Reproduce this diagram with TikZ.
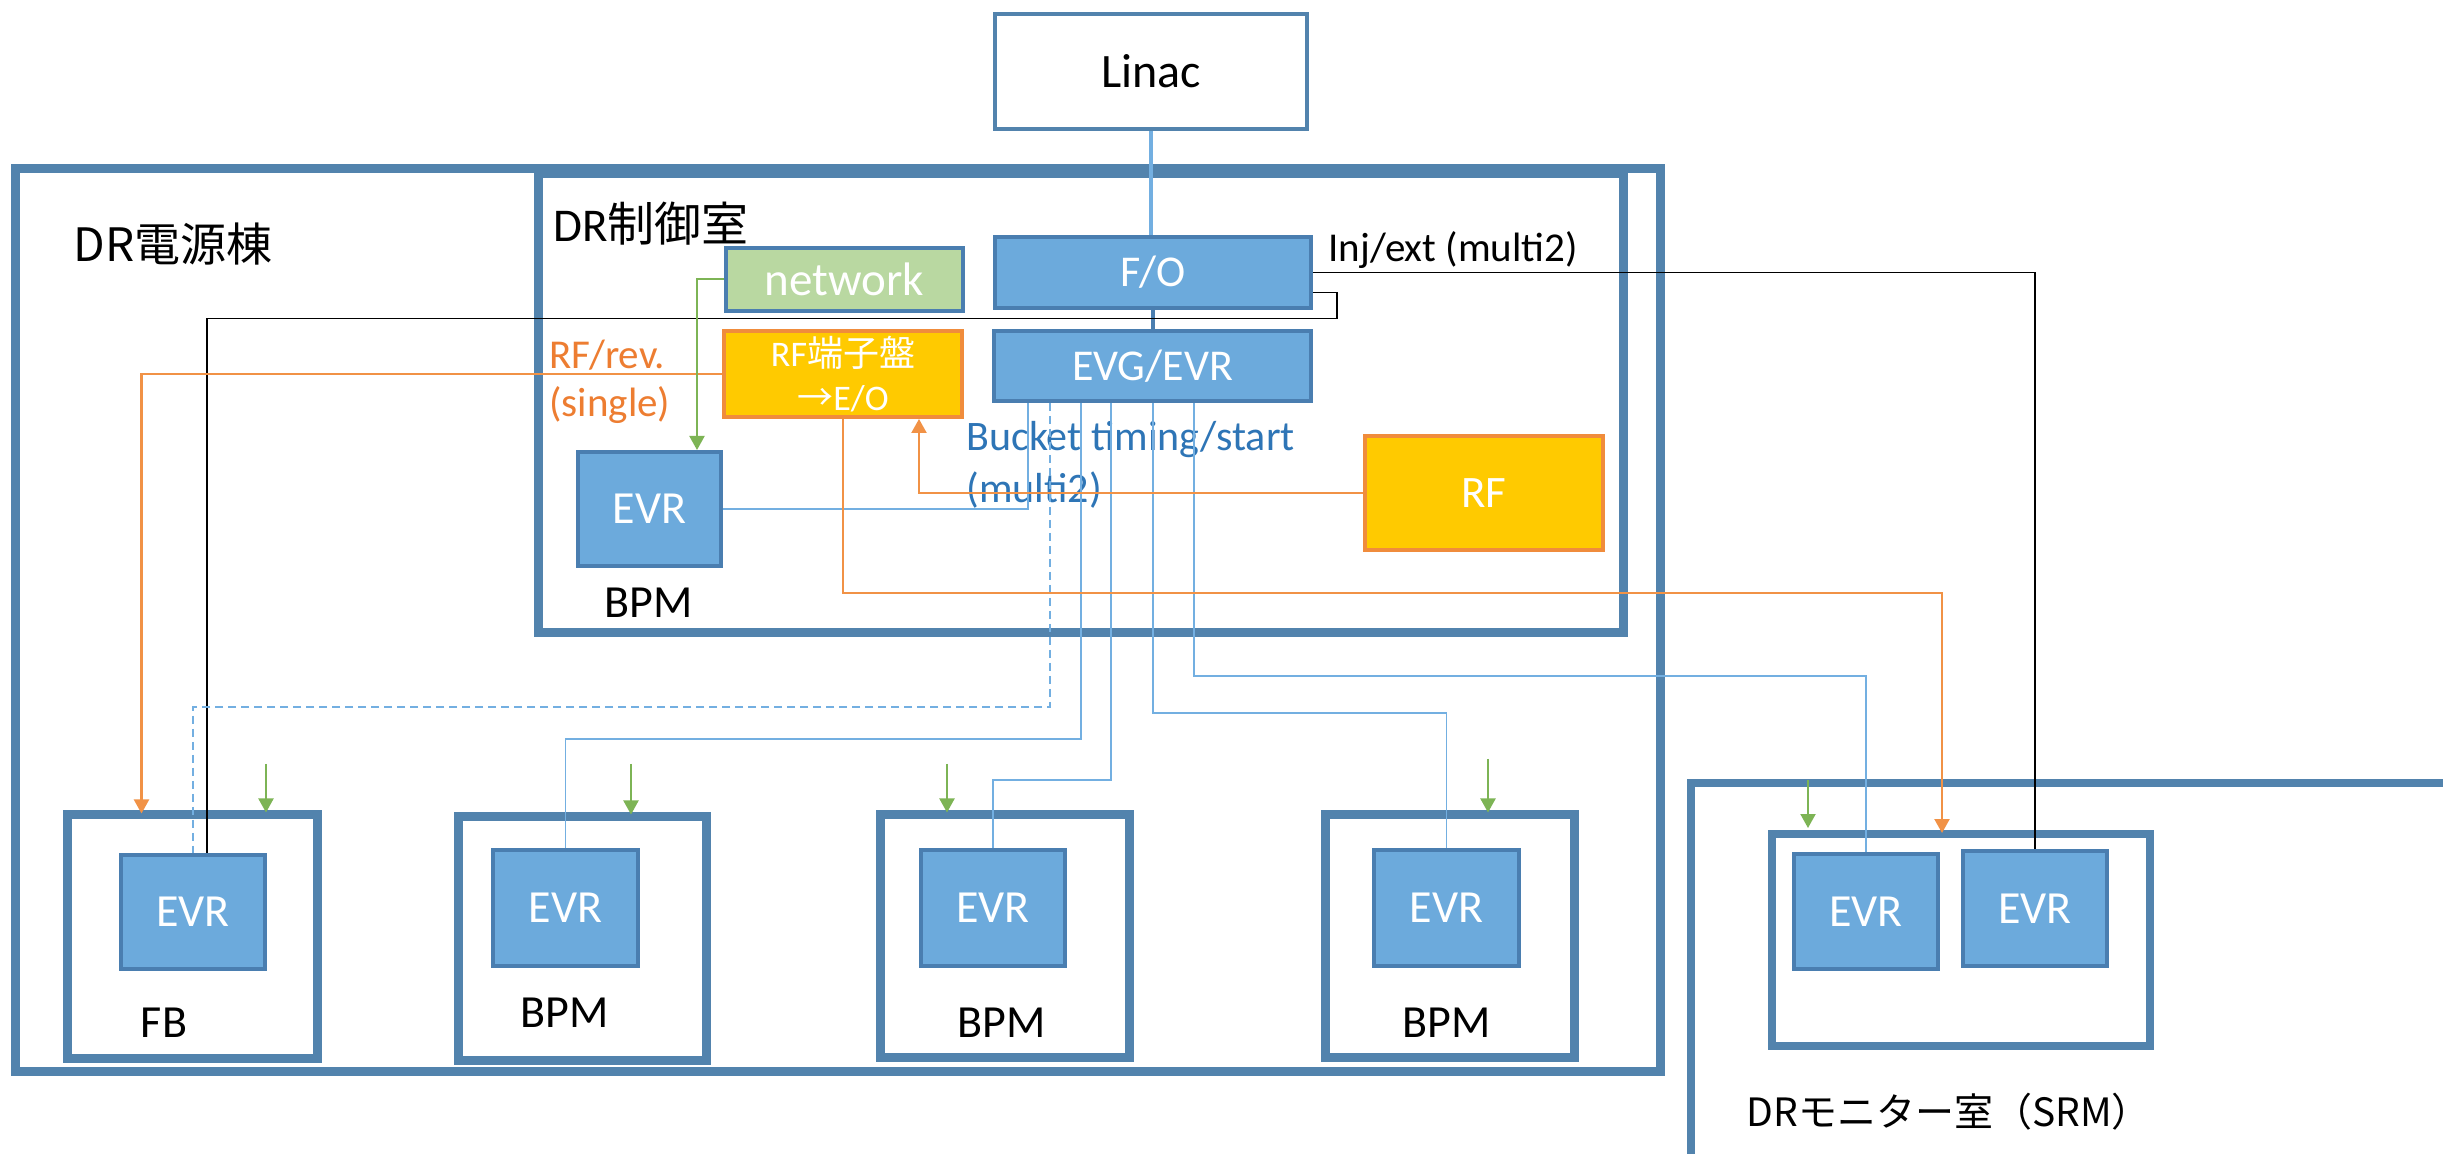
\documentclass[tikz,border=0pt]{standalone}
\usepackage{fontspec}
\setmainfont{Carlito}
\newfontfamily\cjk{Noto Sans CJK JP}
\usetikzlibrary{arrows.meta,calc}
\definecolor{roomblue}{RGB}{82,131,173}
\definecolor{evrfill}{RGB}{108,170,220}
\definecolor{evrborder}{RGB}{74,126,176}
\definecolor{netgreen}{RGB}{185,216,161}
\definecolor{gold}{RGB}{255,202,0}
\definecolor{orangeb}{RGB}{240,140,60}
\definecolor{orangeline}{RGB}{241,146,70}
\definecolor{orangetext}{RGB}{237,125,49}
\definecolor{greenline}{RGB}{125,180,85}
\definecolor{blueline}{RGB}{115,175,225}
\definecolor{bluetext}{RGB}{46,117,182}
\begin{document}
\begin{tikzpicture}[x=0.5pt,y=-0.5pt,
  room/.style={draw=roomblue,line width=4.5pt,rectangle,inner sep=0pt},
  evr/.style={draw=evrborder,fill=evrfill,line width=2pt,rectangle,inner sep=0pt,text=white,font=\fontsize{23}{27}\selectfont},
  netbox/.style={draw=evrborder,fill=netgreen,line width=2pt,rectangle,inner sep=0pt,text=white,font=\fontsize{23.5}{27}\selectfont},
  goldbox/.style={draw=orangeb,fill=gold,line width=2pt,rectangle,inner sep=0pt,text=white},
  plainbox/.style={draw=roomblue,fill=white,line width=2pt,rectangle,inner sep=0pt,font=\fontsize{24}{28}\selectfont},
  lbl/.style={inner sep=0pt,font=\fontsize{23}{27}\selectfont},
  blk/.style={draw=black,line width=0.6pt},
  bl/.style={draw=blueline,line width=0.9pt},
  bldash/.style={draw=blueline,line width=0.9pt,dash pattern=on 4pt off 2.5pt},
  orl/.style={draw=orangeline,line width=1.1pt,-{Triangle[width=7.5pt,length=7pt]}},
  orlplain/.style={draw=orangeline,line width=1.1pt},
  grl/.style={draw=greenline,line width=1pt,-{Triangle[width=7.5pt,length=7pt]}},
]
\useasboundingbox (0,0) rectangle (2443,1154);
\clip (0,0) rectangle (2443,1154);
\fill[white] (0,0) rectangle (2443,1154);

% rooms
\node[room,minimum width=822.5pt,minimum height=451pt] (powerroom) at (837.5,620) {};
\node[room,minimum width=542.5pt,minimum height=229.5pt] (ctrlroom) at (1080.5,403.5) {};
\node[room,line width=4pt,minimum width=454.5pt,minimum height=258.5pt] (srm) at (2145.5,1041.5) {};

% room labels
\node[lbl,anchor=west,font=\cjk\fontsize{23}{27}\selectfont] (lpower) at (73,244) {DR電源棟};
\node[lbl,anchor=west,font=\fontsize{23.5}{27}\selectfont] (lctrl) at (553,224) {DR{\cjk 制御室}};
\node[lbl,anchor=west,font=\cjk\fontsize{19.5}{24}\selectfont] (lsrm) at (1746,1112) {DRモニター室（SRM）};

% top boxes
\node[plainbox,minimum width=156pt,minimum height=57.5pt] (linac) at (1151,71.5) {Linac};
\node[evr,font=\fontsize{22}{26}\selectfont,minimum width=158pt,minimum height=35.5pt] (fo) at (1153,272.5) {F/O};
\node[evr,font=\fontsize{22}{26}\selectfont,minimum width=158.5pt,minimum height=35pt] (evg) at (1152.5,366) {EVG/EVR};
\node[netbox,minimum width=118.5pt,minimum height=31.5pt] (net) at (844.5,279.5) {network};
\node[goldbox,minimum width=119pt,minimum height=43pt,align=center,font=\fontsize{18}{23}\selectfont] (rft) at (843,374) {RF{\cjk 端子盤}\\[-1pt]{\cjk →}E/O};
\node[goldbox,minimum width=119pt,minimum height=57pt,font=\fontsize{22.5}{27}\selectfont] (rf) at (1484,493) {RF};
\node[evr,minimum width=71.5pt,minimum height=57pt] (evrc) at (649.5,509) {EVR};
\node[lbl] (lbpmc) at (649,603) {BPM};

% connector labels
\node[lbl,anchor=west,font=\fontsize{20.5}{25}\selectfont] (linj) at (1328,250) {Inj/ext (multi2)};
\node[lbl,anchor=west,text=orangetext,font=\fontsize{20.5}{25}\selectfont] (lrf1) at (549,355) {RF/rev.};
\node[lbl,anchor=west,text=orangetext,font=\fontsize{20.5}{25}\selectfont] (lrf2) at (549,405) {(single)};
\node[lbl,anchor=west,text=bluetext,font=\fontsize{21}{25}\selectfont] (lbk1) at (966,440) {Bucket timing/start};
\node[lbl,anchor=west,text=bluetext,font=\fontsize{21}{25}\selectfont] (lbk2) at (966,490) {(multi2)};

% bottom row
\node[room,minimum width=125pt,minimum height=122pt] (fb) at (192,936) {};
\node[evr,minimum width=72pt,minimum height=57pt] (fbevr) at (193,912) {EVR};
\node[lbl] (lfb) at (164,1023) {FB};
\node[room,minimum width=124pt,minimum height=122pt] (b2) at (582,938) {};
\node[evr,minimum width=72.5pt,minimum height=58pt] (e2) at (565.5,908) {EVR};
\node[lbl] (lb2) at (565,1013) {BPM};
\node[room,minimum width=124.5pt,minimum height=121.5pt] (b3) at (1004.5,935.5) {};
\node[evr,minimum width=72pt,minimum height=58pt] (e3) at (993,908) {EVR};
\node[lbl] (lb3) at (1002,1023) {BPM};
\node[room,minimum width=124.5pt,minimum height=121.5pt] (b4) at (1449.5,935.5) {};
\node[evr,minimum width=72.5pt,minimum height=58pt] (e4) at (1446.5,908) {EVR};
\node[lbl] (lb4) at (1447,1023) {BPM};

% SRM
\node[room,line width=4pt,minimum width=189pt,minimum height=106pt] (sin) at (1961,940) {};
\node[evr,minimum width=72pt,minimum height=57.5pt] (s1) at (1866,911.5) {EVR};
\node[evr,minimum width=72pt,minimum height=57.5pt] (s2) at (2035,908.5) {EVR};

% Linac to F/O to EVG
\draw[draw=blueline,line width=2.2pt] (linac.south) -- (linac.south |- fo.north);
\draw[draw=evrborder,line width=2pt] (fo.south) -- (fo.south |- evg.north);

% black lines
\draw[blk] (fo.east) -| (s2.north);
\draw[blk] ($(fo.east)+(0,20)$) -- ++(24,0) -- ++(0,26) -| ($(fbevr.north)+(14,0)$);

% blue timing lines
\draw[bl] (evrc.east) -| ($(evg.south west)+(36,0)$);
\draw[bldash] ($(evg.south west)+(58,0)$) |- ($(fbevr.north)+(0,-146)$) -- (fbevr.north);
\draw[bl] ($(evg.south west)+(89,0)$) |- ($(e2.north)+(0,-109)$) -- (e2.north);
\draw[bl] ($(evg.south west)+(119,0)$) |- ($(e3.north)+(0,-68)$) -- (e3.north);
\draw[bl] ($(evg.south west)+(161,0)$) |- ($(e4.north)+(0,-135)$) -- (e4.north);
\draw[bl] ($(evg.south west)+(202,0)$) |- ($(s1.north)+(0,-176)$) -- (s1.north);

% orange lines
\draw[orl] (rft.west) -| ($(fb.north west)+(79,4)$);
\draw[orl] (rf.west) -| ($(rft.south)+(76,0)$);
\draw[orl] (rft.south) -- ++(0,174) -| ($(s1.east |- sin.north)+(2,3)$);

% green lines
\draw[grl] (net.west) -| ($(evrc.north east)+(-26,0)$);
\coordinate (g1) at (266,764);
\coordinate (g2) at (631,764);
\coordinate (g3) at (947,764);
\coordinate (g4) at (1488,759);
\coordinate (g5) at (1808,780);
\draw[grl] (g1) -- ($(g1 |- fb.north)+(0,3)$);
\draw[grl] (g2) -- ($(g2 |- b2.north)+(0,3)$);
\draw[grl] (g3) -- ($(g3 |- b3.north)+(0,3)$);
\draw[grl] (g4) -- ($(g4 |- b4.north)+(0,3)$);
\draw[grl] (g5) -- ($(g5 |- sin.north)+(0,-2)$);
\end{tikzpicture}
\end{document}
